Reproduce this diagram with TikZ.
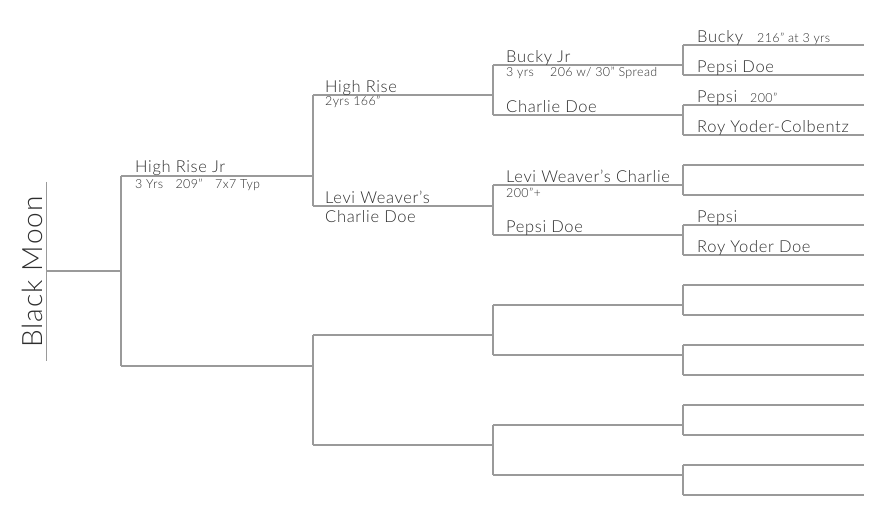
\documentclass[tikz,border=0pt]{standalone}
\usepackage{fontspec}
\setmainfont{Lato}[UprightFont=* Light]
\newfontfamily\mainf{Lato}[UprightFont=* Light,LetterSpace=4]
\newfontfamily\smallf{Lato}[UprightFont=* Light,LetterSpace=3]
\definecolor{ln}{HTML}{9A9A9A}
\definecolor{tx}{HTML}{2E2E2E}
\begin{document}
\begin{tikzpicture}[x=1pt,y=-1pt,
  br/.style={draw=ln,line width=1.3pt},
  nm/.style={anchor=base west,inner sep=0pt,text=tx,font=\mainf\fontsize{16.5}{16.5}\selectfont},
  sm/.style={anchor=base west,inner sep=0pt,text=tx,font=\smallf\fontsize{12.5}{12.5}\selectfont},
  big/.style={anchor=base,inner sep=0pt,text=tx,rotate=90,font=\mainf\fontsize{28}{28}\selectfont}]
\useasboundingbox (0,0) rectangle (884,526);
% ---------- coordinates ----------
\coordinate (bmT) at (46.5,182);
\coordinate (bmB) at (46.5,361);
\coordinate (bmM) at (46.5,271);
\coordinate (a) at (121,271);
\coordinate (a1) at (121,176);
\coordinate (a2) at (121,366);
\coordinate (b1) at (313,176);
\coordinate (b2) at (313,366);
\coordinate (b1t) at (313,95);
\coordinate (b1b) at (313,206);
\coordinate (b2t) at (313,335);
\coordinate (b2b) at (313,445);
\coordinate (c1) at (493,95);
\coordinate (c2) at (493,206);
\coordinate (c3) at (493,335);
\coordinate (c4) at (493,445);
\foreach \i/\t/\b in {1/65/115,2/185/235,3/305/355,4/425/475}{
  \coordinate (ct\i) at (493,\t);
  \coordinate (cb\i) at (493,\b);
}
\foreach \k in {0,...,7}{
  \pgfmathsetmacro{\yt}{45+60*\k}
  \pgfmathsetmacro{\yb}{75+60*\k}
  \coordinate (dt\k) at (683,\yt);
  \coordinate (db\k) at (683,\yb);
  \coordinate (et\k) at (864,\yt);
  \coordinate (eb\k) at (864,\yb);
}
\coordinate (dj0) at (683,65);
\coordinate (dj1) at (683,115);
\coordinate (dj2) at (683,185);
\coordinate (dj3) at (683,235);
\coordinate (dj4) at (683,305);
\coordinate (dj5) at (683,355);
\coordinate (dj6) at (683,425);
\coordinate (dj7) at (683,475);
% ---------- tree lines ----------
\draw[br] (bmT) -- (bmB);
\draw[br] (bmM) -- (a);
\draw[br] (a1) -- (a2);
\draw[br] (a1) -- (b1);
\draw[br] (a2) -- (b2);
\draw[br] (b1t) -- (b1b);
\draw[br] (b2t) -- (b2b);
\draw[br] (b1t) -- (c1);
\draw[br] (b1b) -- (c2);
\draw[br] (b2t) -- (c3);
\draw[br] (b2b) -- (c4);
\foreach \i in {1,...,4}{ \draw[br] (ct\i) -- (cb\i); }
\draw[br] (ct1) -- (dj0);
\draw[br] (cb1) -- (dj1);
\draw[br] (ct2) -- (dj2);
\draw[br] (cb2) -- (dj3);
\draw[br] (ct3) -- (dj4);
\draw[br] (cb3) -- (dj5);
\draw[br] (ct4) -- (dj6);
\draw[br] (cb4) -- (dj7);
\foreach \k in {0,...,7}{
  \draw[br] (dt\k) -- (db\k);
  \draw[br] (dt\k) -- (et\k);
  \draw[br] (db\k) -- (eb\k);
}
% ---------- texts ----------
\node[big] (bm) at (42,272) {Black Moon};
\node[nm] (hrj) at (135,173) {High Rise Jr};
\node[sm] (hrjs) at (135,189) {3 Yrs\hspace{1em}209”\hspace{1em}7x7 Typ};
\node[nm] (hr) at (325,93) {High Rise};
\node[sm] (hrs) at (325,106) {2yrs 166”};
\node[nm] (lw) at (325,204) {Levi Weaver’s};
\node[nm] (lwcd) at (325,223) {Charlie Doe};
\node[nm] (bj) at (506,63) {Bucky Jr};
\node[sm] (bjs) at (506,77) {3 yrs\hspace{1.3em}206 w/ 30” Spread};
\node[nm] (cd) at (506,113) {Charlie Doe};
\node[nm] (lwc) at (506,183) {Levi Weaver’s Charlie};
\node[sm] (lwcs) at (506,198) {200”+};
\node[nm] (pd) at (506,233) {Pepsi Doe};
\node[nm] (bu) at (697,43) {Bucky};
\node[sm] (bus) at (757,43) {216” at 3 yrs};
\node[nm] (pd2) at (697,73) {Pepsi Doe};
\node[nm] (pe) at (697,103) {Pepsi};
\node[sm] (pes) at (750,103) {200”};
\node[nm] (ryc) at (697,133) {Roy Yoder-Colbentz};
\node[nm] (pe2) at (697,223) {Pepsi};
\node[nm] (ryd) at (697,253) {Roy Yoder Doe};
\end{tikzpicture}
\end{document}
